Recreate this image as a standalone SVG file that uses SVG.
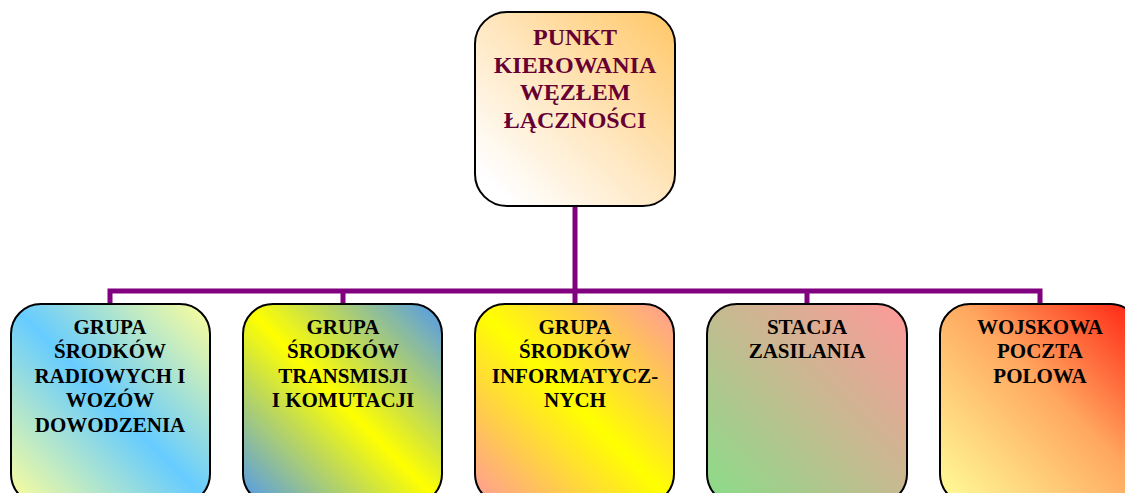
<svg xmlns="http://www.w3.org/2000/svg" width="1125" height="493" viewBox="0 0 1125 493">
<style>
.box{stroke:#000;stroke-width:2}
.t{font-family:"Liberation Serif","Times New Roman",serif;font-weight:bold;text-anchor:middle}
.top{font-size:24px;fill:#660033}
.bt{font-size:21px;fill:#000}
.conn{fill:none;stroke:#800080;stroke-width:5;stroke-linejoin:miter}
</style>
<defs>
<linearGradient id="g0" x1="1" y1="0" x2="0" y2="1">
<stop offset="0" stop-color="#FFC766"/><stop offset="0.5" stop-color="#FFE7C0"/><stop offset="0.9" stop-color="#FFFFFF"/>
</linearGradient>
<linearGradient id="g1" x1="1" y1="0" x2="0" y2="1">
<stop offset="0" stop-color="#FFFF99"/><stop offset="0.5" stop-color="#66CCFF"/><stop offset="1" stop-color="#FFFF99"/>
</linearGradient>
<linearGradient id="g2" x1="1" y1="0" x2="0" y2="1">
<stop offset="0" stop-color="#4F98F0"/><stop offset="0.5" stop-color="#FFFF00"/><stop offset="1" stop-color="#4F98F0"/>
</linearGradient>
<linearGradient id="g3" x1="1" y1="0" x2="0" y2="1">
<stop offset="0" stop-color="#FF9999"/><stop offset="0.5" stop-color="#FFFF00"/><stop offset="1" stop-color="#FF9999"/>
</linearGradient>
<linearGradient id="g4" x1="1" y1="0" x2="0" y2="1">
<stop offset="0" stop-color="#FF9999"/><stop offset="1" stop-color="#88DD88"/>
</linearGradient>
<linearGradient id="g5" x1="1" y1="0" x2="0" y2="1">
<stop offset="0" stop-color="#FF2010"/><stop offset="0.45" stop-color="#FFA860"/><stop offset="1" stop-color="#FFFF99"/>
</linearGradient>
</defs>
<g id="connectors">
<path class="conn" d="M575,206 V291"/>
<path class="conn" d="M110,304 V291 H1040 V304"/>
<path class="conn" d="M343,291 V304 M575,291 V304 M807,291 V304"/>
</g>
<g id="node-top">
<rect class="box" x="475" y="12" width="200" height="194" rx="32" fill="url(#g0)"/>
<text class="t top" x="575" y="45">PUNKT</text>
<text class="t top" x="575" y="73">KIEROWANIA</text>
<text class="t top" x="575" y="100">WĘZŁEM</text>
<text class="t top" x="575" y="128">ŁĄCZNOŚCI</text>
</g>
<g id="node-radio">
<rect class="box" x="11" y="304" width="199" height="200" rx="30" fill="url(#g1)"/>
<text class="t bt" x="110" y="334">GRUPA</text>
<text class="t bt" x="110" y="358">ŚRODKÓW</text>
<text class="t bt" x="110" y="383">RADIOWYCH I</text>
<text class="t bt" x="110" y="407">WOZÓW</text>
<text class="t bt" x="110" y="432">DOWODZENIA</text>
</g>
<g id="node-transmisja">
<rect class="box" x="243" y="304" width="199" height="200" rx="30" fill="url(#g2)"/>
<text class="t bt" x="343" y="334">GRUPA</text>
<text class="t bt" x="343" y="358">ŚRODKÓW</text>
<text class="t bt" x="343" y="383">TRANSMISJI</text>
<text class="t bt" x="343" y="407">I KOMUTACJI</text>
</g>
<g id="node-informatyka">
<rect class="box" x="475" y="304" width="199" height="200" rx="30" fill="url(#g3)"/>
<text class="t bt" x="575" y="334">GRUPA</text>
<text class="t bt" x="575" y="358">ŚRODKÓW</text>
<text class="t bt" x="575" y="383">INFORMATYCZ-</text>
<text class="t bt" x="575" y="407">NYCH</text>
</g>
<g id="node-zasilanie">
<rect class="box" x="707" y="304" width="200" height="200" rx="30" fill="url(#g4)"/>
<text class="t bt" x="807" y="334">STACJA</text>
<text class="t bt" x="807" y="358">ZASILANIA</text>
</g>
<g id="node-poczta">
<rect class="box" x="940" y="304" width="200" height="200" rx="30" fill="url(#g5)"/>
<text class="t bt" x="1040" y="334">WOJSKOWA</text>
<text class="t bt" x="1040" y="358">POCZTA</text>
<text class="t bt" x="1040" y="383">POLOWA</text>
</g>
</svg>
